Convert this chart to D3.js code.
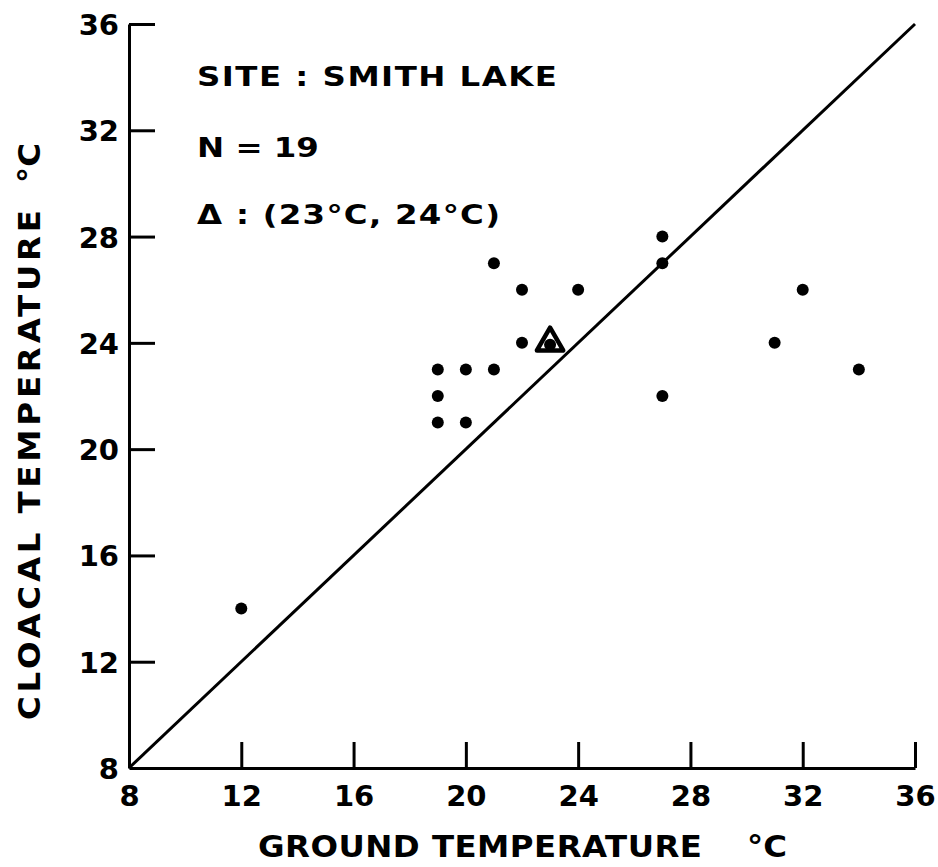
<!DOCTYPE html>
<html>
<head>
<meta charset="utf-8">
<script src="https://cdn.jsdelivr.net/npm/d3@7"></script>
<style>
  body { margin: 0; background: #fff; }
  text { font-family: "DejaVu Sans", sans-serif; font-weight: bold; fill: #000; }
</style>
</head>
<body>
<svg id="chart"></svg>
<script>
// Data
var groundTemp  = [12, 19, 19, 19, 20, 20, 21, 21, 22, 22, 24, 27, 27, 27, 31, 32, 34];
var cloacalTemp = [14, 21, 22, 23, 21, 23, 23, 27, 24, 26, 26, 22, 27, 28, 24, 26, 23];
var meanPoint = [23, 24];
var xTicks = [8, 12, 16, 20, 24, 28, 32, 36];
var yTicks = [8, 12, 16, 20, 24, 28, 32, 36];
var notes = ['SITE : SMITH LAKE', 'N = 19', '\u0394 : (23\u00B0C, 24\u00B0C)'];
var noteWidths = [360, 105, 303];

var canvasWidth = 938;
var canvasHeight = 867;

var margin = {
  top: 24,
  right: 23,
  bottom: 99,
  left: 129
};
var plotW = canvasWidth - margin.left - margin.right;
var plotH = canvasHeight - margin.top - margin.bottom;

// the lettering of the figure is wide, so stretch text a bit
var noteStretch = 1.2;
var titleStretch = 1.08;

var svg = d3.select('#chart')
  .attr('width', canvasWidth)
  .attr('height', canvasHeight);

var g = svg.append('g')
  .attr('transform', 'translate(' + margin.left + ',' + margin.top + ')');

var xScale = d3.scaleLinear().domain([8, 36]).range([0, plotW]);
var yScale = d3.scaleLinear().domain([8, 36]).range([plotH, 0]);

// axes: ticks point into the plot
var xAxis = d3.axisBottom(xScale)
  .tickValues(xTicks)
  .tickSize(-26)
  .tickSizeOuter(0);

var yAxis = d3.axisLeft(yScale)
  .tickValues(yTicks)
  .tickSize(-26)
  .tickSizeOuter(0);

var xg = g.append('g')
  .attr('transform', 'translate(0,' + plotH + ')')
  .call(xAxis);

var yg = g.append('g').call(yAxis);

[xg, yg].forEach(function (a) {
  a.select('.domain').attr('stroke', '#000').attr('stroke-width', 3);
  a.selectAll('.tick line').attr('stroke', '#000').attr('stroke-width', 3);
  a.selectAll('.tick text')
    .style('font-family', '"DejaVu Sans", sans-serif')
    .style('font-weight', 'bold')
    .style('font-size', '29px')
    .attr('fill', '#000');
});
xg.selectAll('.tick text').attr('y', 38).attr('dy', 0);
yg.selectAll('.tick text').attr('x', -10).attr('dy', '0.36em');
// no tick marks in the corner
xg.selectAll('.tick').filter(function (d) { return d === 8; }).select('line').remove();
yg.selectAll('.tick').filter(function (d) { return d === 8; }).select('line').remove();

// 1:1 line
g.append('line')
  .attr('x1', xScale(8))
  .attr('y1', yScale(8))
  .attr('x2', xScale(36))
  .attr('y2', yScale(36))
  .attr('stroke', '#000')
  .attr('stroke-width', 3);

// points
var pts = groundTemp.map(function (d, i) {
  return { x: d, y: cloacalTemp[i] };
});

g.selectAll('.dot')
  .data(pts)
  .enter()
  .append('circle')
  .attr('class', 'dot')
  .attr('cx', function (d) { return xScale(d.x); })
  .attr('cy', function (d) { return yScale(d.y); })
  .attr('r', 6)
  .attr('fill', '#000');

// mean marker (open triangle with a dot inside)
var mx = xScale(meanPoint[0]);
var my = yScale(meanPoint[1]);
g.append('circle')
  .attr('cx', mx)
  .attr('cy', my + 2)
  .attr('r', 6)
  .attr('fill', '#000');
g.append('path')
  .attr('d', d3.symbol().type(d3.symbolTriangle).size(300)())
  .attr('transform', 'translate(' + mx + ',' + my + ')')
  .attr('fill', 'none')
  .attr('stroke', '#000')
  .attr('stroke-width', 4.5)
  .attr('stroke-linejoin', 'round');

// spread letters only when the text is shorter than wanted
function fitWidth(sel, width, stretch) {
  sel.each(function () {
    var natural = this.getComputedTextLength();
    if (natural * stretch < width) {
      d3.select(this)
        .attr('textLength', width / stretch)
        .attr('lengthAdjust', 'spacing');
    }
  });
}

// notes in the upper left
var noteY = [86, 157, 224];
svg.selectAll('.note')
  .data(notes)
  .enter()
  .append('text')
  .attr('class', 'note')
  .attr('transform', function (d, i) {
    return 'translate(197,' + noteY[i] + ') scale(' + noteStretch + ',1)';
  })
  .style('font-size', '27px')
  .text(function (d) { return d; })
  .each(function (d, i) {
    fitWidth(d3.select(this), noteWidths[i], noteStretch);
  });

// axis titles
svg.append('text')
  .attr('transform', 'translate(258,857) scale(' + titleStretch + ',1)')
  .style('font-size', '30px')
  .text('GROUND TEMPERATURE')
  .call(fitWidth, 444, titleStretch);
svg.append('text')
  .attr('transform', 'translate(787,857) scale(' + titleStretch + ',1)')
  .attr('text-anchor', 'end')
  .style('font-size', '30px')
  .text('\u00B0C');

svg.append('text')
  .attr('transform', 'translate(40,720) rotate(-90) scale(' + titleStretch + ',1)')
  .style('font-size', '30px')
  .text('CLOACAL TEMPERATURE')
  .call(fitWidth, 510, titleStretch);
svg.append('text')
  .attr('transform', 'translate(40,143) rotate(-90) scale(' + titleStretch + ',1)')
  .attr('text-anchor', 'end')
  .style('font-size', '30px')
  .text('\u00B0C');
</script>
</body>
</html>
